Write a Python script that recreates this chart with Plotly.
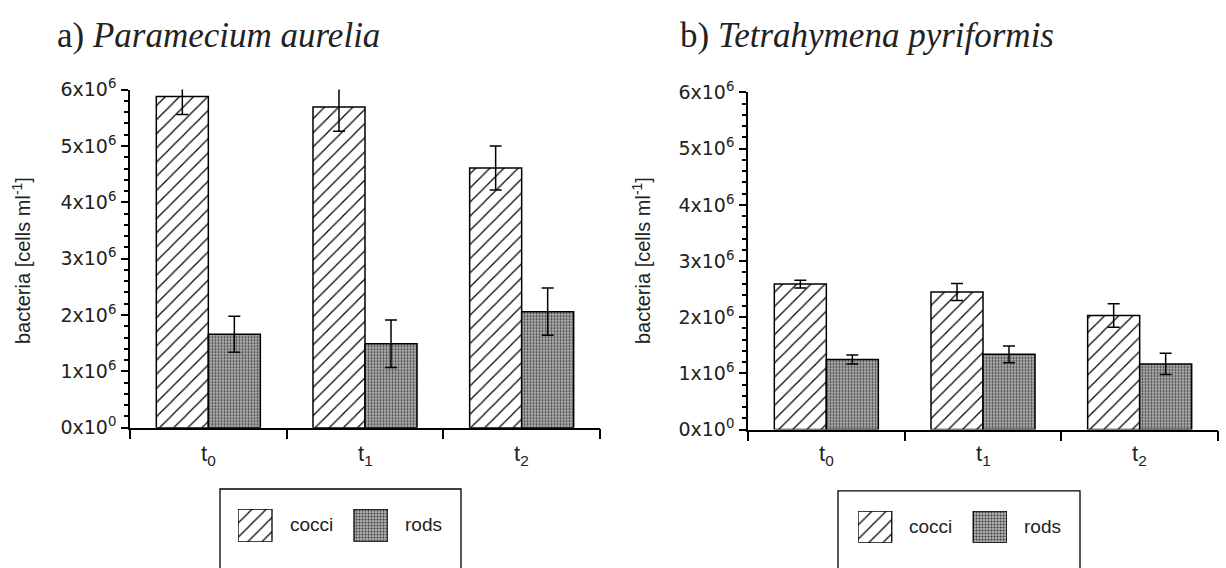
import plotly.graph_objects as go

# Sampling times and bacterial morphotypes
times = ["t<sub>0</sub>", "t<sub>1</sub>", "t<sub>2</sub>"]
series = ["cocci", "rods"]

# a) Paramecium aurelia — means and error (cells per ml)
para_cocci = [5.88e6, 5.69e6, 4.61e6]
para_cocci_err = [0.32e6, 0.43e6, 0.39e6]
para_rods = [1.66e6, 1.49e6, 2.06e6]
para_rods_err = [0.32e6, 0.42e6, 0.42e6]

# b) Tetrahymena pyriformis
tetra_cocci = [2.59e6, 2.45e6, 2.03e6]
tetra_cocci_err = [0.07e6, 0.15e6, 0.21e6]
tetra_rods = [1.25e6, 1.34e6, 1.17e6]
tetra_rods_err = [0.08e6, 0.15e6, 0.19e6]

# y-axis tick labels
y_ticks = [0, 1e6, 2e6, 3e6, 4e6, 5e6, 6e6]
y_tick_text = ["0x10<sup>0</sup>", "1x10<sup>6</sup>", "2x10<sup>6</sup>", "3x10<sup>6</sup>",
               "4x10<sup>6</sup>", "5x10<sup>6</sup>", "6x10<sup>6</sup>"]

W, H = 1226, 568
SANS = "Liberation Sans"
WIDE_SANS = "DejaVu Sans"
SERIF = "Liberation Serif"
INK = "#222222"


def px(x):
    return x / W


def py(y):
    return 1 - y / H


patterns = {
    "cocci": dict(shape="/", size=10, solidity=0.12, fgcolor="black", bgcolor="white", fillmode="replace"),
    "rods": dict(shape=".", size=3, solidity=0.4, fgcolor="#3a3a3a", bgcolor="#b4b4b4", fillmode="replace"),
}

fig = go.Figure()

x_idx = [0, 1, 2]
panels = [
    ("x", "y", [(para_cocci, para_cocci_err), (para_rods, para_rods_err)]),
    ("x2", "y2", [(tetra_cocci, tetra_cocci_err), (tetra_rods, tetra_rods_err)]),
]
for xa, ya, data in panels:
    for name, (vals, errs) in zip(series, data):
        fig.add_trace(go.Bar(
            x=x_idx, y=vals, name=name, xaxis=xa, yaxis=ya, showlegend=False,
            marker=dict(color="white", pattern=patterns[name], line=dict(color="black", width=1.5)),
            error_y=dict(type="data", array=errs, visible=True, color="black", thickness=1.5, width=6),
        ))

# Legend swatches, drawn as bars in small dedicated axes
legend_axes = [("x3", "y3"), ("x4", "y4")]
for xa, ya in legend_axes:
    for i, name in enumerate(series):
        fig.add_trace(go.Bar(
            x=[i], y=[1], xaxis=xa, yaxis=ya, showlegend=False, hoverinfo="skip",
            width=0.293, offset=-0.1466,
            marker=dict(color="white", pattern=patterns[name], line=dict(color="black", width=1.3)),
        ))

yaxis_common = dict(
    range=[0, 6e6], tickmode="array", tickvals=y_ticks, ticktext=y_tick_text,
    ticks="outside", ticklen=7, tickwidth=1.5, tickcolor="black",
    minor=dict(dtick=2e5, tick0=0, ticks="outside", ticklen=4, tickwidth=1.5, tickcolor="black"),
    showline=True, linecolor="black", linewidth=1.5, showgrid=False, zeroline=False,
    tickfont=dict(family=WIDE_SANS, size=19, color=INK), ticklabelstandoff=1,
)
xaxis_common = dict(
    range=[-0.5, 2.5], tickmode="array", tickvals=[-0.5, 0.5, 1.5, 2.5], showticklabels=False,
    ticks="outside", ticklen=10, tickwidth=1.5, tickcolor="black",
    showline=True, linecolor="black", linewidth=1.5, showgrid=False, zeroline=False,
)
legend_x = dict(range=[-0.1466, 1.1466], visible=False, fixedrange=True)
legend_y = dict(range=[0, 1], visible=False, fixedrange=True)

fig.update_layout(
    width=W, height=H, margin=dict(l=0, r=0, t=0, b=0),
    paper_bgcolor="white", plot_bgcolor="white",
    barmode="group", bargap=0.336, bargroupgap=0,
    xaxis=dict(domain=[px(130), px(600)], anchor="y", **xaxis_common),
    yaxis=dict(domain=[py(433), py(80)], anchor="x", **yaxis_common),
    xaxis2=dict(domain=[px(748), px(1218)], anchor="y2", **xaxis_common),
    yaxis2=dict(domain=[py(435), py(83)], anchor="x2", **yaxis_common),
    xaxis3=dict(domain=[px(238), px(388)], anchor="y3", **legend_x),
    yaxis3=dict(domain=[py(552), py(518)], anchor="x3", **legend_y),
    xaxis4=dict(domain=[px(858), px(1007)], anchor="y4", **legend_x),
    yaxis4=dict(domain=[py(553), py(520)], anchor="x4", **legend_y),
)

annotations = []
# panel titles
for xpos, label in ((55, "a) <i>Paramecium aurelia</i>"), (678, "b) <i>Tetrahymena pyriformis</i>")):
    annotations.append(dict(text=label, x=px(xpos), y=py(23), xref="paper", yref="paper",
                            xanchor="left", yanchor="middle", showarrow=False,
                            font=dict(family=SERIF, size=35, color=INK)))
# y-axis titles
for xpos in (21, 641):
    annotations.append(dict(text="bacteria [cells ml<sup>-1</sup>]", x=px(xpos), y=py(259),
                            xref="paper", yref="paper", textangle=-90, showarrow=False,
                            xanchor="center", yanchor="middle",
                            font=dict(family=SANS, size=20, color=INK)))
# category labels
for xa in ("x", "x2"):
    for i, t in zip(x_idx, times):
        annotations.append(dict(text=t, x=i, y=py(462), xref=xa, yref="paper", showarrow=False,
                                xanchor="center", yanchor="middle",
                                font=dict(family=SANS, size=22, color=INK)))
# legend labels
for xs, ycen in (((288, 403), 534), ((907, 1022), 536)):
    for xpos, name in zip(xs, series):
        annotations.append(dict(text=name, x=px(xpos), y=py(ycen), xref="paper", yref="paper",
                                showarrow=False, xanchor="left", yanchor="middle",
                                font=dict(family=SANS, size=19, color=INK)))
fig.update_layout(annotations=annotations)

# legend frames
for x0, x1, y0 in ((220, 461, 497), (838, 1080, 499)):
    fig.add_shape(type="rect", xref="paper", yref="paper", x0=px(x0), x1=px(x1), y0=py(y0), y1=-0.05,
                  line=dict(color="black", width=1.3), fillcolor="rgba(0,0,0,0)")

fig.write_html("out.html")
